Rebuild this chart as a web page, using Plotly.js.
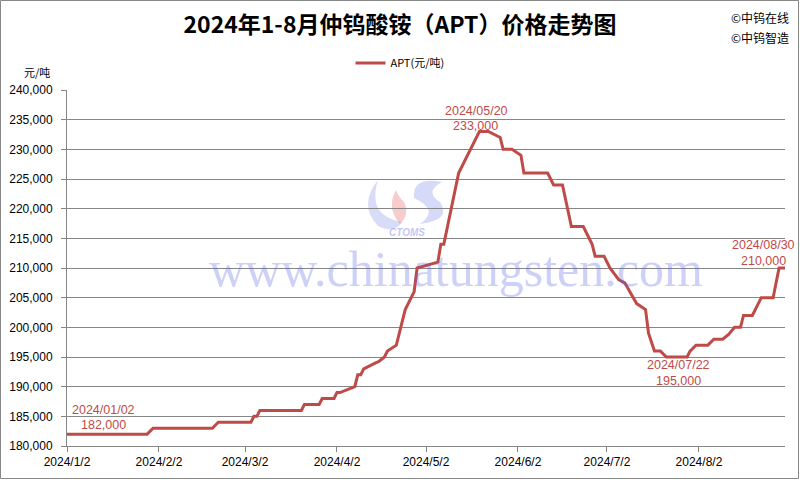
<!DOCTYPE html>
<html>
<head>
<meta charset="utf-8">
<script src="https://cdn.plot.ly/plotly-3.0.1.min.js"></script>
<style>
  html, body { margin: 0; padding: 0; background: #fff; }
  #chart { width: 800px; height: 480px; }
</style>
</head>
<body>
<div id="chart"></div>
<script>
// ---------------- data ----------------
const dates = [
  '2024-01-02','2024-01-29','2024-01-31','2024-02-20','2024-02-22','2024-03-04',
  '2024-03-05','2024-03-06','2024-03-07','2024-03-21','2024-03-22','2024-03-27',
  '2024-03-28','2024-04-01','2024-04-02','2024-04-03','2024-04-08','2024-04-09',
  '2024-04-10','2024-04-11','2024-04-15','2024-04-16','2024-04-18','2024-04-19',
  '2024-04-22','2024-04-23','2024-04-24','2024-04-25','2024-04-26','2024-04-28',
  '2024-04-29','2024-05-06','2024-05-07','2024-05-08','2024-05-13','2024-05-20',
  '2024-05-23','2024-05-27','2024-05-28','2024-05-31','2024-06-03','2024-06-04',
  '2024-06-12','2024-06-14','2024-06-17','2024-06-20','2024-06-24','2024-06-27',
  '2024-06-28','2024-07-01','2024-07-03','2024-07-06','2024-07-08','2024-07-11',
  '2024-07-12','2024-07-15','2024-07-16','2024-07-18','2024-07-20','2024-07-22',
  '2024-07-29','2024-07-30','2024-08-01','2024-08-05','2024-08-07','2024-08-10',
  '2024-08-12','2024-08-14','2024-08-16','2024-08-17','2024-08-20','2024-08-23',
  '2024-08-27','2024-08-28','2024-08-29','2024-08-30','2024-08-31'
];
const prices = [
  182000,182000,183000,183000,184000,184000,
  185000,185000,186000,186000,187000,187000,
  188000,188000,189000,189000,190000,192000,
  192000,193000,194000,194200,195000,196000,
  197000,199000,201000,203000,204000,206000,
  210000,211000,214000,214000,226000,233000,
  233000,232000,230000,230000,229000,226000,
  226000,224000,224000,217000,217000,214000,
  212000,212000,210000,208000,207500,205000,
  204000,203000,199000,196000,196000,195000,
  195000,196000,197000,197000,198000,198000,
  198800,200000,200000,202000,202000,205000,
  205000,207500,210000,210000,210000
];

const seriesName = 'APT(元/吨)';
const xTickVals = ['2024-01-02','2024-02-02','2024-03-02','2024-04-02','2024-05-02','2024-06-02','2024-07-02','2024-08-02'];
const xTickText = ['2024/1/2','2024/2/2','2024/3/2','2024/4/2','2024/5/2','2024/6/2','2024/7/2','2024/8/2'];
const yTickVals = [180000,185000,190000,195000,200000,205000,210000,215000,220000,225000,230000,235000,240000];

const labelDates = ['2024-01-02','2024-05-20','2024-07-22','2024-08-30'];
const labelDateText = ['2024/01/02','2024/05/20','2024/07/22','2024/08/30'];
const labelPrices = [182000,233000,195000,210000];

const titleText = '2024年1-8月仲钨酸铵（APT）价格走势图';
const unitText = '元/吨';
const sourceTexts = ['©中钨在线','©中钨智造'];
const watermarkText = 'www.chinatungsten.com';
const logoText = 'CTOMS';

// ---------------- layout helpers ----------------
const W = 800, H = 480;
const M = {l: 67, r: 15, t: 90, b: 34};
const PW = W - M.l - M.r, PH = H - M.t - M.b;
const px = x => (x - M.l) / PW;
const py = y => (H - M.b - y) / PH;

const RED = '#BE4B48';
const GRID = '#868686';
const NUMFONT = 'Liberation Sans, Arial, sans-serif';
const CJK = 'Noto Sans CJK SC, sans-serif';

// annotation offsets (style)
const dateShift = [[36, 24], [-3, 21], [12, -8], [-19, 23]];
const valShift  = [[36, 9], [-4, 6], [12, -24], [-19, 7]];

const fmt = v => v.toLocaleString('en-US');

const annotations = [];
labelDates.forEach((d, i) => {
  annotations.push({
    x: d, y: labelPrices[i], xref: 'x', yref: 'y', text: labelDateText[i],
    showarrow: false, xanchor: 'center', yanchor: 'middle',
    xshift: dateShift[i][0], yshift: dateShift[i][1],
    font: {family: NUMFONT, size: 12.5, color: RED}
  });
  annotations.push({
    x: d, y: labelPrices[i], xref: 'x', yref: 'y', text: fmt(labelPrices[i]),
    showarrow: false, xanchor: 'center', yanchor: 'middle',
    xshift: valShift[i][0], yshift: valShift[i][1],
    font: {family: NUMFONT, size: 12.5, color: RED}
  });
});
// unit label
annotations.push({
  x: px(37), y: py(72), xref: 'paper', yref: 'paper', text: unitText,
  showarrow: false, xanchor: 'center', yanchor: 'middle',
  font: {family: CJK, size: 11, color: '#000'}
});
// source marks
sourceTexts.forEach((t, i) => {
  annotations.push({
    x: px(729), y: py(17 + i * 20), xref: 'paper', yref: 'paper', text: t,
    showarrow: false, xanchor: 'left', yanchor: 'middle',
    font: {family: CJK, size: 12, color: '#000'}
  });
});
// watermark
annotations.push({
  x: px(456), y: py(269), xref: 'paper', yref: 'paper', text: watermarkText,
  showarrow: false, xanchor: 'center', yanchor: 'middle',
  font: {family: 'Liberation Serif, Times New Roman, serif', size: 50, color: 'rgba(90,100,230,0.30)'}
});
annotations.push({
  x: px(407), y: py(232), xref: 'paper', yref: 'paper', text: '<b><i>' + logoText + '</i></b>',
  showarrow: false, xanchor: 'center', yanchor: 'middle',
  font: {family: 'Liberation Sans, Arial, sans-serif', size: 10, color: 'rgba(90,100,230,0.38)'}
});

const shapes = [
  // outer chart frame
  {type: 'rect', xref: 'paper', yref: 'paper', layer: 'above',
   x0: px(0.5), x1: px(798.5), y0: py(478.5), y1: py(0.5),
   line: {color: '#888888', width: 1}, fillcolor: 'rgba(0,0,0,0)'},
  // logo swooshes (watermark)
  {type: 'path', xref: 'paper', yref: 'paper', layer: 'below',
   path: `M ${px(378)} ${py(180)} Q ${px(358)} ${py(205)} ${px(378)} ${py(226)} Q ${px(395)} ${py(234)} ${px(402)} ${py(222)} Q ${px(380)} ${py(218)} ${px(376)} ${py(203)} Q ${px(374)} ${py(192)} ${px(378)} ${py(180)} Z`,
   fillcolor: 'rgba(110,120,230,0.26)', line: {width: 0}},
  {type: 'path', xref: 'paper', yref: 'paper', layer: 'below',
   path: `M ${px(396)} ${py(190)} Q ${px(386)} ${py(208)} ${px(400)} ${py(224)} Q ${px(410)} ${py(214)} ${px(404)} ${py(202)} Q ${px(398)} ${py(196)} ${px(396)} ${py(190)} Z`,
   fillcolor: 'rgba(235,110,110,0.35)', line: {width: 0}},
  {type: 'path', xref: 'paper', yref: 'paper', layer: 'below',
   path: `M ${px(442)} ${py(182)} Q ${px(412)} ${py(176)} ${px(414)} ${py(198)} Q ${px(440)} ${py(210)} ${px(420)} ${py(224)} Q ${px(452)} ${py(220)} ${px(440)} ${py(202)} Q ${px(424)} ${py(192)} ${px(442)} ${py(182)} Z`,
   fillcolor: 'rgba(110,120,230,0.28)', line: {width: 0}}
];

const trace = {
  x: dates, y: prices, type: 'scatter', mode: 'lines', name: seriesName,
  line: {color: RED, width: 3}, hoverinfo: 'x+y'
};

const layout = {
  width: W, height: H,
  margin: {l: M.l, r: M.r, t: M.t, b: M.b, pad: 0},
  paper_bgcolor: '#ffffff', plot_bgcolor: 'rgba(0,0,0,0)',
  title: {
    text: '<b>' + titleText + '</b>',
    font: {family: CJK, size: 23, color: '#000'},
    x: 0.5, xref: 'container', xanchor: 'center',
    y: 1 - 25 / H, yref: 'container', yanchor: 'middle'
  },
  showlegend: true,
  legend: {
    orientation: 'h', x: 0.5, xref: 'container', xanchor: 'center',
    y: 1 - 63 / H, yref: 'container', yanchor: 'middle',
    font: {family: CJK, size: 11, color: '#000'},
    bgcolor: 'rgba(0,0,0,0)'
  },
  xaxis: {
    type: 'date', range: ['2024-01-02', '2024-08-31'],
    tickmode: 'array', tickvals: xTickVals, ticktext: xTickText,
    showgrid: false, zeroline: false,
    showline: true, linecolor: GRID, linewidth: 1,
    ticks: 'outside', ticklen: 5, tickcolor: GRID,
    tickfont: {family: NUMFONT, size: 12, color: '#000'},
    fixedrange: true
  },
  yaxis: {
    range: [180000, 240000],
    tickmode: 'array', tickvals: yTickVals, tickformat: ',',
    showgrid: true, gridcolor: GRID, gridwidth: 1, zeroline: false,
    showline: true, linecolor: GRID, linewidth: 1,
    ticks: 'outside', ticklen: 5, tickcolor: GRID,
    ticklabelstandoff: 6,
    tickfont: {family: NUMFONT, size: 12, color: '#000'},
    fixedrange: true
  },
  annotations: annotations,
  shapes: shapes
};

Plotly.newPlot('chart', [trace], layout, {displayModeBar: false, staticPlot: true});
</script>
</body>
</html>
